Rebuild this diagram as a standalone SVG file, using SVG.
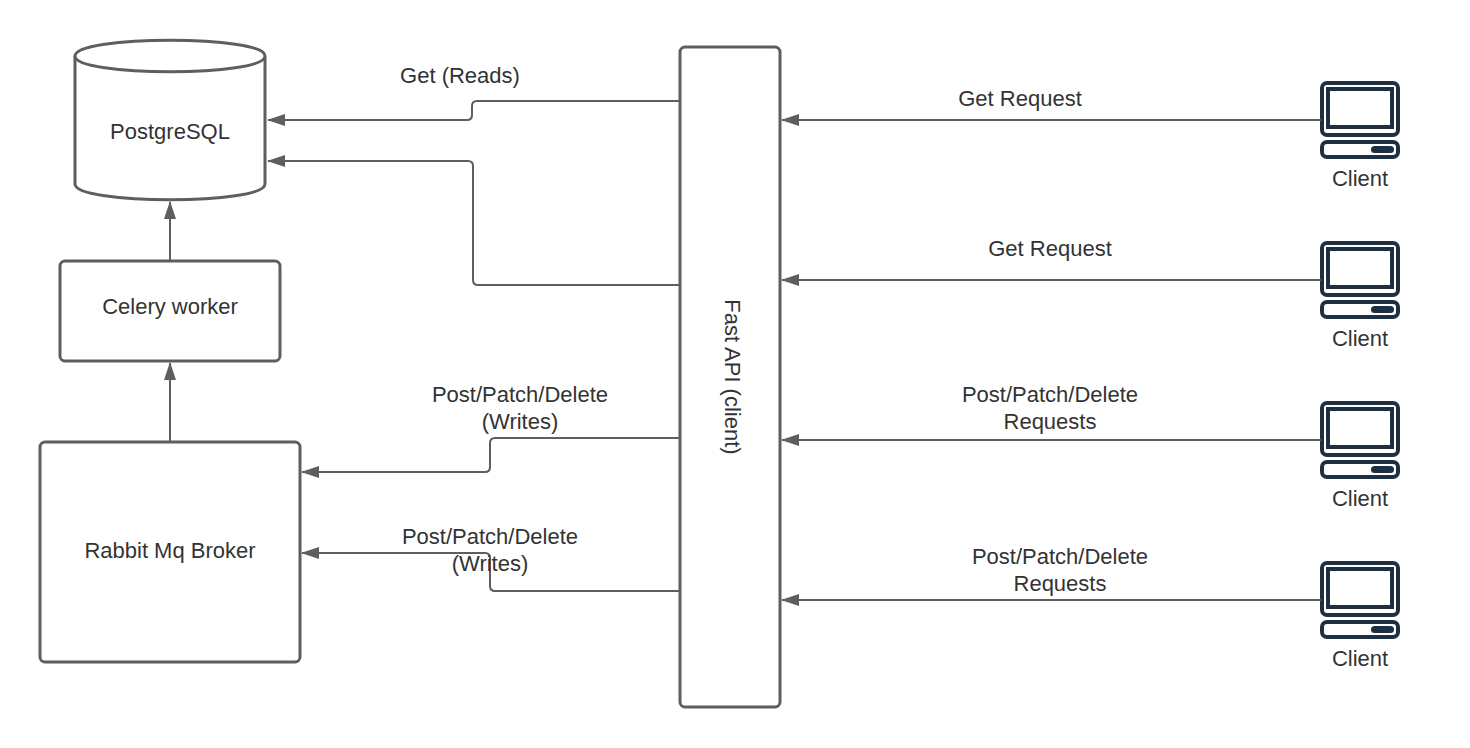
<svg xmlns="http://www.w3.org/2000/svg" width="1470" height="748" viewBox="0 0 1470 748">
<style>
text{font-family:"Liberation Sans",Arial,sans-serif;font-size:22px;fill:#333;text-anchor:middle}
.n{fill:#fff;stroke:#5e5e5e;stroke-width:3}
.c{fill:none;stroke:#5e5e5e;stroke-width:2;marker-end:url(#a)}
.i{fill:none;stroke:#1f2f42;stroke-width:4}
.d{fill:#1f2f42}
</style>
<defs>
<marker id="a" markerUnits="userSpaceOnUse" markerWidth="20" markerHeight="14" refX="17" refY="7" orient="auto"><path d="M0 1L18 7L0 13Z" fill="#5e5e5e"/></marker>
<g id="pc">
<rect class="i" x="1322" y="83" width="76" height="52" rx="5"/>
<rect class="i" x="1328" y="89" width="64" height="38"/>
<rect class="i" x="1322" y="142" width="76" height="15" rx="5"/>
<rect class="d" x="1371" y="146" width="23" height="7" rx="3.5"/>
</g>
</defs>
<rect width="1470" height="748" fill="#fff"/>
<g id="postgres">
<path class="n" d="M75 56C75 35 265 35 265 56V184C265 205 75 205 75 184Z"/>
<path class="n" fill="none" d="M75 56C75 77 265 77 265 56"/>
<text x="170" y="139">PostgreSQL</text>
</g>
<g id="celery">
<rect class="n" x="60" y="261" width="220" height="100" rx="5"/>
<text x="170" y="314">Celery worker</text>
</g>
<g id="rabbit">
<rect class="n" x="40" y="442" width="260" height="220" rx="5"/>
<text x="170" y="558">Rabbit Mq Broker</text>
</g>
<g id="fastapi">
<rect class="n" x="680" y="47" width="100" height="660" rx="5"/>
<text transform="translate(725 377) rotate(90)">Fast API (client)</text>
</g>
<g id="client1"><use href="#pc"/><text x="1360" y="186">Client</text></g>
<g id="client2"><use href="#pc" y="160"/><text x="1360" y="346">Client</text></g>
<g id="client3"><use href="#pc" y="320"/><text x="1360" y="506">Client</text></g>
<g id="client4"><use href="#pc" y="480"/><text x="1360" y="666">Client</text></g>
<g id="connectors">
<path class="c" d="M680 101H477Q472 101 472 106V115Q472 120 467 120H268"/>
<path class="c" d="M680 285H478Q473 285 473 280V166Q473 161 468 161H268"/>
<path class="c" d="M170 261V202"/>
<path class="c" d="M170 442V363"/>
<path class="c" d="M680 438H495Q490 438 490 443V467Q490 472 485 472H302"/>
<path class="c" d="M680 591H495Q490 591 490 586V558Q490 553 485 553H302"/>
<path class="c" d="M1321 120H782"/>
<path class="c" d="M1321 280H782"/>
<path class="c" d="M1321 440H782"/>
<path class="c" d="M1321 600H782"/>
</g>
<g id="labels">
<text x="460" y="83">Get (Reads)</text>
<text x="520" y="402">Post/Patch/Delete</text>
<text x="520" y="429">(Writes)</text>
<text x="490" y="544">Post/Patch/Delete</text>
<text x="490" y="571">(Writes)</text>
<text x="1020" y="106">Get Request</text>
<text x="1050" y="256">Get Request</text>
<text x="1050" y="402">Post/Patch/Delete</text>
<text x="1050" y="429">Requests</text>
<text x="1060" y="564">Post/Patch/Delete</text>
<text x="1060" y="591">Requests</text>
</g>
</svg>
